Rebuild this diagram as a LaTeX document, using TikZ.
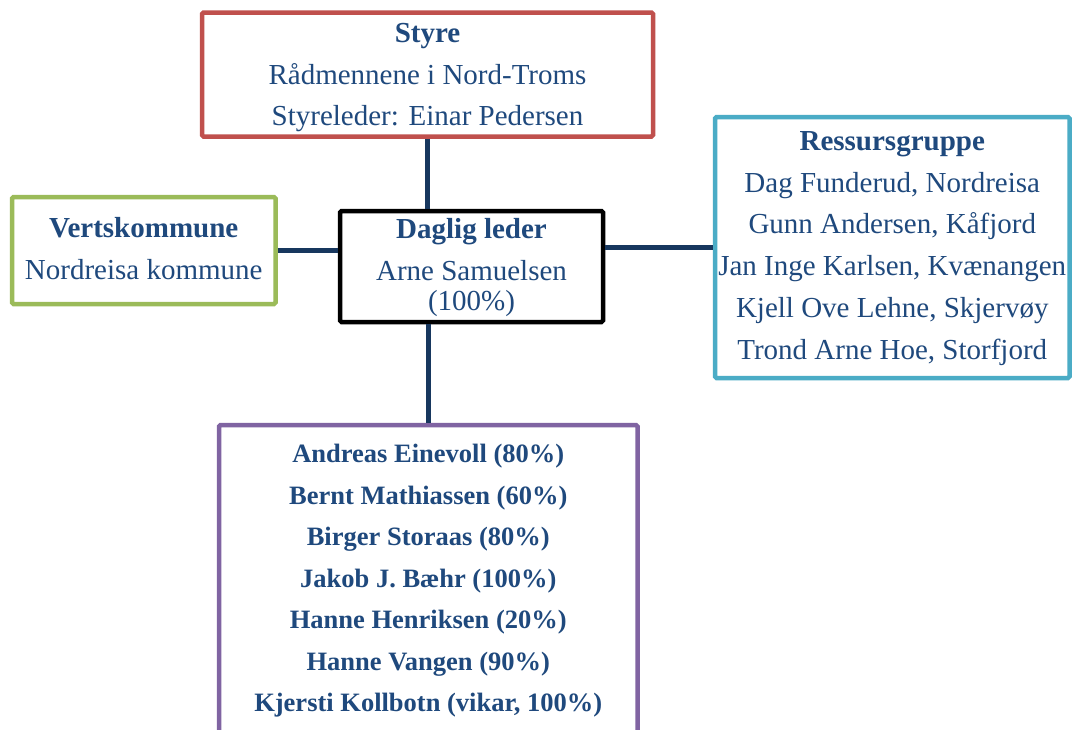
\documentclass[tikz,border=0pt]{standalone}
\usepackage{fontspec}
\setmainfont{Liberation Serif}
\definecolor{txtblue}{RGB}{31,73,125}
\definecolor{conn}{RGB}{23,55,94}
\definecolor{boxred}{RGB}{192,80,77}
\definecolor{boxgreen}{RGB}{155,187,89}
\definecolor{boxcyan}{RGB}{75,172,198}
\definecolor{boxpurple}{RGB}{128,100,162}
\tikzset{
  orgbox/.style={draw, line width=4.5pt, rounded corners=1.5pt, fill=white, inner sep=0pt, rectangle},
  reg/.style={anchor=base, inner sep=0pt, text=txtblue, font=\fontsize{29}{35}\selectfont},
  hdr/.style={reg, font=\fontsize{29}{35}\selectfont\bfseries},
  staff/.style={reg, font=\fontsize{26.5}{32}\selectfont\bfseries},
  link/.style={draw=conn, line width=4.5pt}
}
\begin{document}
\begin{tikzpicture}[x=1pt,y=-1pt]
\clip (0,0) rectangle (1072,729);
\fill[white] (0,0) rectangle (1072,729);
% boxes
\node[orgbox, draw=boxred, minimum width=451pt, minimum height=124pt] (styre) at (427.5,74.5) {};
\node[orgbox, draw=boxgreen, minimum width=263.5pt, minimum height=107pt] (vert) at (143.75,250.5) {};
\node[orgbox, draw=black, minimum width=263pt, minimum height=111pt] (daglig) at (471.5,266.5) {};
\node[orgbox, draw=boxcyan, minimum width=354.5pt, minimum height=261pt] (ress) at (892.25,247.5) {};
\node[orgbox, draw=boxpurple, minimum width=418.5pt, minimum height=330pt] (staffbox) at (428.25,590) {};
% connectors
\draw[link] (styre.south) -- (styre.south |- daglig.north);
\draw[link] (vert.east) -- (vert.east -| daglig.west);
\draw[link] (ress.west) -- (ress.west -| daglig.east);
\draw[link] (staffbox.north) -- (staffbox.north |- daglig.south);
% Styre text
\node[hdr] (s1) at (427.5,42) {Styre};
\node[reg] (s2) at (427.5,84) {Rådmennene i Nord-Troms};
\node[reg] (s3) at (427.5,125.5) {Styreleder: Einar Pedersen};
% Vertskommune text
\node[hdr] (v1) at (143.75,237) {Vertskommune};
\node[reg] (v2) at (143.75,279) {Nordreisa kommune};
% Daglig leder text
\node[hdr] (d1) at (471.5,238.5) {Daglig leder};
\node[reg] (d2) at (471.5,280.5) {Arne Samuelsen};
\node[reg] (d3) at (471.5,310.5) {(100\%)};
% Ressursgruppe text
\node[hdr] (r1) at (892.25,150.5) {Ressursgruppe};
\node[reg] (r2) at (892.25,192) {Dag Funderud, Nordreisa};
\node[reg] (r3) at (892.25,233.5) {Gunn Andersen, Kåfjord};
\node[reg] (r4) at (892.25,275.5) {Jan Inge Karlsen, Kvænangen};
\node[reg] (r5) at (892.25,317.5) {Kjell Ove Lehne, Skjervøy};
\node[reg] (r6) at (892.25,359.5) {Trond Arne Hoe, Storfjord};
% staff text
\node[staff] (p1) at (428.25,462.7) {Andreas Einevoll (80\%)};
\node[staff] (p2) at (428.25,504.2) {Bernt Mathiassen (60\%)};
\node[staff] (p3) at (428.25,545.7) {Birger Storaas (80\%)};
\node[staff] (p4) at (428.25,587.2) {Jakob J. Bæhr (100\%)};
\node[staff] (p5) at (428.25,628.7) {Hanne Henriksen (20\%)};
\node[staff] (p6) at (428.25,670.2) {Hanne Vangen (90\%)};
\node[staff] (p7) at (428.25,711.7) {Kjersti Kollbotn (vikar, 100\%)};
\end{tikzpicture}
\end{document}
